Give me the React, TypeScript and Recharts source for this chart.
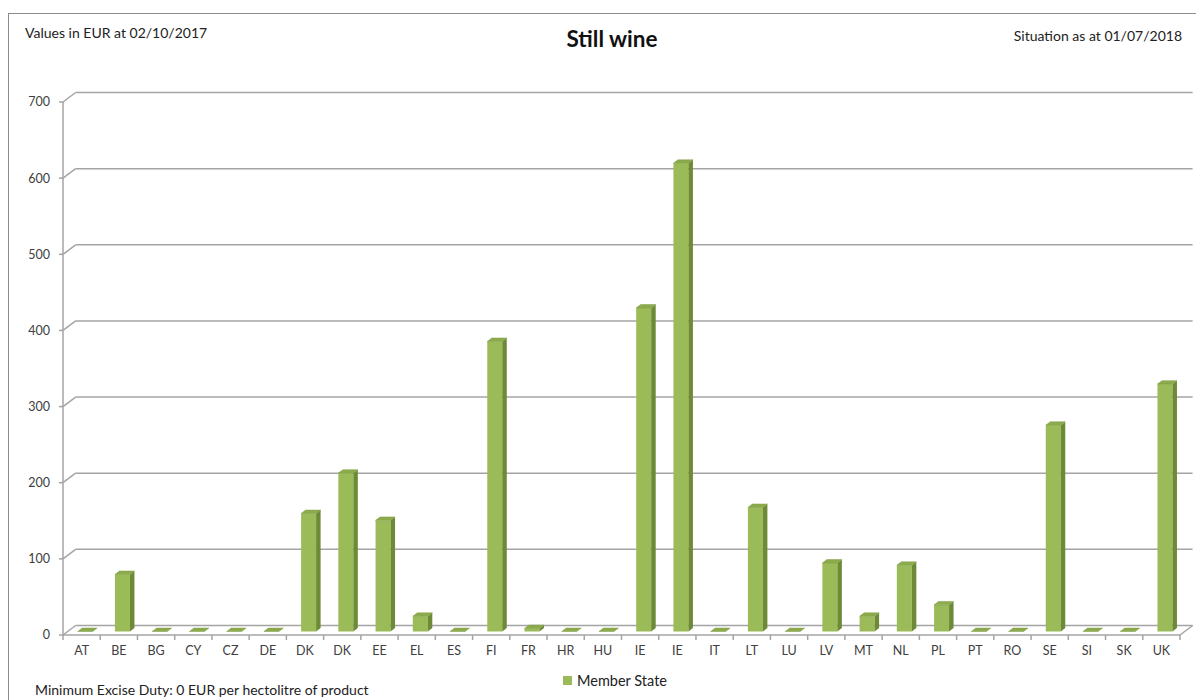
import React from 'react'
import { BarChart, Bar, XAxis, YAxis, CartesianGrid } from 'recharts'

const codes = [
  'AT', 'BE', 'BG', 'CY', 'CZ', 'DE', 'DK', 'DK', 'EE', 'EL',
  'ES', 'FI', 'FR', 'HR', 'HU', 'IE', 'IE', 'IT', 'LT', 'LU',
  'LV', 'MT', 'NL', 'PL', 'PT', 'RO', 'SE', 'SI', 'SK', 'UK',
]
const duty = [
  0, 75, 0, 0, 0, 0, 155, 208, 146, 20,
  0, 381, 4, 0, 0, 425, 615, 0, 163, 0,
  90, 20, 87, 35, 0, 0, 271, 0, 0, 325,
]
const yTicks = [0, 100, 200, 300, 400, 500, 600, 700]

const data = codes.map((code, i) => ({ code, value: duty[i] }))

const W = 1204
const H = 700
const MARGIN = { top: 102, right: 24, bottom: 35, left: 0 }
const Y_AXIS_W = 63
const X_AXIS_H = 30
const FLOOR_Y = H - MARGIN.bottom - X_AXIS_H

// depth of the back wall, and of each column
const WALL_DX = 12.6
const WALL_DY = 9.5
const COL_DX = 4.5
const COL_DY = 3.4
const COL_SHIFT_X = 3.7
const COL_SHIFT_Y = -3.5

const GREEN = '#9bbb59'
const GREEN_TOP = '#8cab4c'
const GREEN_SIDE = '#6d8a36'
const GRID = '#a4a4a4'
const FONT = 'Lato, Carlito, Calibri, sans-serif'

function Column(props: any) {
  const { x, y, width, height } = props
  const x0 = x + COL_SHIFT_X
  const y0 = y + COL_SHIFT_Y
  const h = Math.max(height, 0)
  const top = `${x0},${y0} ${x0 + COL_DX},${y0 - COL_DY} ${x0 + width + COL_DX},${y0 - COL_DY} ${x0 + width},${y0}`
  const side = `${x0 + width},${y0} ${x0 + width + COL_DX},${y0 - COL_DY} ${x0 + width + COL_DX},${y0 + h - COL_DY} ${x0 + width},${y0 + h}`
  return (
    <g>
      {h > 0 && <rect x={x0} y={y0} width={width} height={h} fill={GREEN} />}
      {h > 0 && <polygon points={side} fill={GREEN_SIDE} />}
      <polygon points={top} fill={GREEN_TOP} stroke="#7f9c44" strokeWidth={0.5} />
    </g>
  )
}

// side-wall diagonal plus back-wall line for every value gridline
function WallLine(props: any) {
  const { x1, x2, y1, index } = props
  const isFloor = Math.abs(y1 - FLOOR_Y) < 0.5
  return (
    <g key={`wall-${index}`}>
      <line x1={x1} y1={y1} x2={x1 + WALL_DX} y2={y1 - WALL_DY} stroke={GRID} strokeWidth={1.5} />
      <line x1={x1 + WALL_DX} y1={y1 - WALL_DY} x2={x2 + WALL_DX} y2={y1 - WALL_DY} stroke={GRID} strokeWidth={1.5} />
      {isFloor && (
        <line x1={x2} y1={y1} x2={x2 + WALL_DX} y2={y1 - WALL_DY} stroke={GRID} strokeWidth={1.5} />
      )}
    </g>
  )
}

function CountryTick(props: any) {
  const { x, y, payload, index } = props
  const half = payload.offset || (W - MARGIN.right - Y_AXIS_W) / codes.length / 2
  return (
    <g>
      {index === 0 && (
        <line x1={x - half} y1={FLOOR_Y} x2={x - half} y2={FLOOR_Y + 5} stroke={GRID} strokeWidth={1.5} />
      )}
      <line x1={x + half} y1={FLOOR_Y} x2={x + half} y2={FLOOR_Y + 5} stroke={GRID} strokeWidth={1.5} />
      <text x={x} y={y} dy="0.71em" textAnchor="middle" fontSize={12.5} fill="#404040" fontFamily={FONT}>
        {payload.value}
      </text>
    </g>
  )
}

export default function App() {
  return (
    // the outer box sits inside the body margin; the inner layer is drawn in page coordinates
    <div style={{ position: 'relative', width: W - 16, height: H - 8, fontFamily: FONT }}>
      <div style={{ position: 'absolute', left: -8, top: -8, width: W, height: H, background: '#fff' }}>
        <div style={{ position: 'absolute', left: 8, top: 13, width: W - 8, height: H - 13, borderLeft: '1px solid #8c8c8c', borderTop: '1px solid #8c8c8c', boxSizing: 'border-box' }} />
        <div style={{ position: 'absolute', left: 25, top: 24, fontSize: 14, color: '#222' }}>Values in EUR at 02/10/2017</div>
        <div style={{ position: 'absolute', left: 462, top: 25, width: 300, textAlign: 'center', fontSize: 22.5, fontWeight: 700, color: '#111' }}>Still wine</div>
        <div style={{ position: 'absolute', right: 22, top: 27, fontSize: 14, color: '#222' }}>Situation as at 01/07/2018</div>

        <div style={{ position: 'absolute', left: 0, top: 0 }}>
          <BarChart width={W} height={H} data={data} margin={MARGIN}>
            <CartesianGrid vertical={false} horizontal={WallLine} />
            <XAxis
              dataKey="code"
              interval={0}
              height={X_AXIS_H}
              axisLine={{ stroke: GRID, strokeWidth: 1.5 }}
              tickLine={false}
              tickSize={5}
              tickMargin={6}
              tick={CountryTick}
            />
            <YAxis
              domain={[0, 700]}
              ticks={yTicks}
              width={Y_AXIS_W}
              axisLine={{ stroke: GRID, strokeWidth: 1.5 }}
              tickLine={{ stroke: GRID, strokeWidth: 1.5 }}
              tickSize={4}
              tickMargin={9}
              tick={{ fontSize: 12.5, fill: '#404040', fontFamily: FONT }}
            />
            <Bar dataKey="value" barSize={15} fill={GREEN} shape={Column} isAnimationActive={false} />
          </BarChart>
        </div>

        <div style={{ position: 'absolute', left: 563, top: 672, display: 'flex', alignItems: 'center', fontSize: 14.5, color: '#222' }}>
          <span style={{ display: 'inline-block', width: 9, height: 9, background: GREEN, marginRight: 5 }} />
          Member State
        </div>
        <div style={{ position: 'absolute', left: 35, top: 681, fontSize: 14, color: '#222' }}>
          Minimum Excise Duty: 0 EUR per hectolitre of product
        </div>
      </div>
    </div>
  )
}
